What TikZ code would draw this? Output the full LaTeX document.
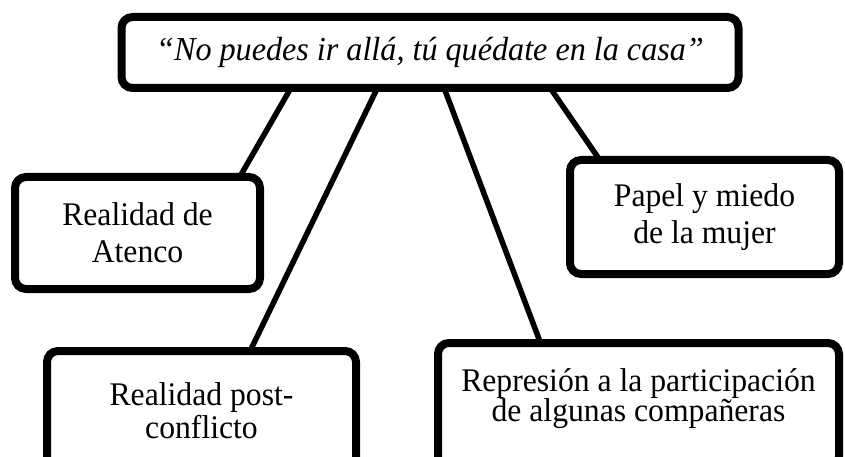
\documentclass[tikz,border=0pt]{standalone}
\usepackage{fontspec}
\setmainfont{Liberation Serif}[FakeStretch=0.96]
\tikzset{
  box/.style={draw=black, line width=8pt, rounded corners=11pt, fill=white,
    inner sep=0pt, outer sep=0pt, align=center},
  link/.style={draw=black, line width=5.5pt},
}
\begin{document}
\begin{tikzpicture}[x=1pt,y=-1pt]
\useasboundingbox (0,0) rectangle (845,457);
\clip (0,0) rectangle (845,457);
\fill[white] (0,0) rectangle (845,457);
\node[box, minimum width=617pt, minimum height=71pt,
  font=\fontsize{33.5}{37}\selectfont\itshape] (top) at (430,52.5)
  {“No puedes ir allá, tú quédate en la casa”};
\node[box, minimum width=245pt, minimum height=112pt,
  font=\fontsize{33}{37}\selectfont] (atenco) at (137.5,233)
  {Realidad de\\Atenco};
\node[box, minimum width=269pt, minimum height=114pt,
  font=\fontsize{33}{37}\selectfont] (papel) at (704.5,217)
  {Papel y miedo\\de la mujer};
\node[box, minimum width=309pt, minimum height=119.5pt,
  font=\fontsize{33}{33}\selectfont] (post) at (201.5,410.75)
  {Realidad post-\\conflicto};
\node[box, minimum width=401pt, minimum height=124.2pt,
  font=\fontsize{33}{30}\selectfont] (repr) at (638.5,405.1)
  {Represión a la participación\\de algunas compañeras\rule[-20pt]{0pt}{0pt}};
\draw[link] (top.south -| 290.9,0) -- (atenco.north -| 239.7,0);
\draw[link] (top.south -| 377.4,0) -- (post.north -| 250.1,0);
\draw[link] (top.south -| 444.1,0) -- (repr.north -| 540.5,0);
\draw[link] (top.south -| 550.2,0) -- (papel.north -| 599.8,0);
\end{tikzpicture}
\end{document}
